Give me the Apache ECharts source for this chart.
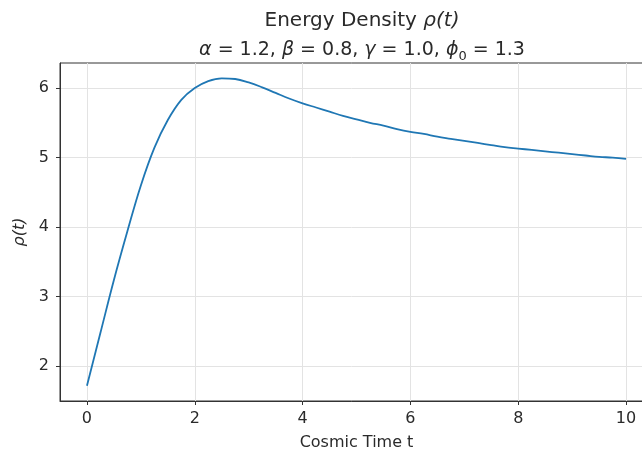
<!DOCTYPE html>
<html>
<head>
<meta charset="utf-8">
<style>
html, body {
  margin: 0;
  padding: 0;
  background: #fff;
}
#chart {
  width: 642px;
  height: 461px;
}
</style>
<script src="https://cdn.jsdelivr.net/npm/echarts@6/dist/echarts.min.js"></script>
</head>
<body>
<div id="chart"></div>
<script>
// cosmic time t, every 0.25
const times = [
  0, 0.25, 0.5, 0.75, 1, 1.25, 1.5, 1.75, 2, 2.25, 2.5, 2.75, 3, 3.25, 3.5, 3.75,
  4, 4.25, 4.5, 4.75, 5, 5.25, 5.5, 5.75, 6, 6.25, 6.5, 6.75, 7, 7.25, 7.5, 7.75,
  8, 8.25, 8.5, 8.75, 9, 9.25, 9.5, 9.75, 10
]
// energy density rho(t)
const rho = [
  1.72, 2.48, 3.24, 3.94, 4.60, 5.14, 5.54, 5.83, 6.00, 6.10, 6.14, 6.13, 6.08, 6.01, 5.93, 5.85,
  5.78, 5.72, 5.66, 5.60, 5.55, 5.50, 5.46, 5.41, 5.37, 5.34, 5.30, 5.27, 5.24, 5.21, 5.18, 5.15,
  5.13, 5.11, 5.09, 5.07, 5.05, 5.03, 5.01, 5.00, 4.98
]
const xTicks = [0, 2, 4, 6, 8, 10]
const yTicks = [2, 3, 4, 5, 6]

const font = 'DejaVu Sans'
const ink = '#2a2a2a'
const chart = echarts.init(document.getElementById('chart'))

chart.setOption({
  animation: false,
  backgroundColor: '#fff',
  textStyle: { fontFamily: font },
  title: [
    {
      left: 357,
      top: 6,
      textAlign: 'center',
      text: '{n|Energy Density }{i|ρ(t)}',
      textStyle: {
        fontWeight: 'normal',
        rich: {
          n: { fontFamily: font, fontSize: 20, color: ink, fontWeight: 'normal' },
          i: { fontFamily: font, fontSize: 20, color: ink, fontWeight: 'normal', fontStyle: 'italic' }
        }
      }
    },
    {
      left: 357,
      top: 32,
      textAlign: 'center',
      text: '{i|α}{n| = 1.2, }{i|β}{n| = 0.8, }{i|γ}{n| = 1.0, }{i|ϕ}{s|0}{n| = 1.3}',
      textStyle: {
        fontWeight: 'normal',
        rich: {
          n: { fontFamily: font, fontSize: 19, color: ink, fontWeight: 'normal', lineHeight: 26, verticalAlign: 'middle' },
          i: { fontFamily: font, fontSize: 19, color: ink, fontWeight: 'normal', fontStyle: 'italic', lineHeight: 26, verticalAlign: 'middle' },
          s: { fontFamily: font, fontSize: 13, color: ink, fontWeight: 'normal', lineHeight: 26, verticalAlign: 'bottom' }
        }
      }
    }
  ],
  grid: {
    left: 60,
    top: 63,
    width: 593,
    height: 338,
    outerBoundsMode: 'none',
    show: true,
    borderColor: '#333',
    borderWidth: 1,
    backgroundColor: '#fff'
  },
  xAxis: {
    type: 'value',
    min: -0.5,
    max: 10.5,
    name: 'Cosmic Time t',
    nameLocation: 'middle',
    nameGap: 34,
    nameTextStyle: { fontFamily: font, fontSize: 16, color: ink },
    axisLine: { show: true, onZero: false, lineStyle: { color: '#333', width: 1 } },
    axisTick: { show: true, customValues: xTicks, length: 4, lineStyle: { color: '#333' } },
    axisLabel: { customValues: xTicks, fontFamily: font, fontSize: 16, color: ink, margin: 10 },
    splitLine: { show: true, lineStyle: { color: '#e3e3e3', width: 1 } }
  },
  yAxis: {
    type: 'value',
    min: 1.5,
    max: 6.36,
    name: 'ρ(t)',
    nameLocation: 'middle',
    nameRotate: 90,
    nameGap: 22,
    nameTextStyle: { fontFamily: font, fontSize: 16, color: ink, fontStyle: 'italic' },
    axisLine: { show: true, onZero: false, lineStyle: { color: '#333', width: 1 } },
    axisTick: { show: true, customValues: yTicks, length: 4, lineStyle: { color: '#333' } },
    axisLabel: { customValues: yTicks, fontFamily: font, fontSize: 16, color: ink, margin: 11 },
    splitLine: { show: true, lineStyle: { color: '#e3e3e3', width: 1 } }
  },
  series: [
    {
      type: 'line',
      data: times.map((t, i) => [t, rho[i]]),
      showSymbol: false,
      smooth: 0.4,
      lineStyle: { color: '#1f77b4', width: 1.8 }
    }
  ]
})
</script>
</body>
</html>
